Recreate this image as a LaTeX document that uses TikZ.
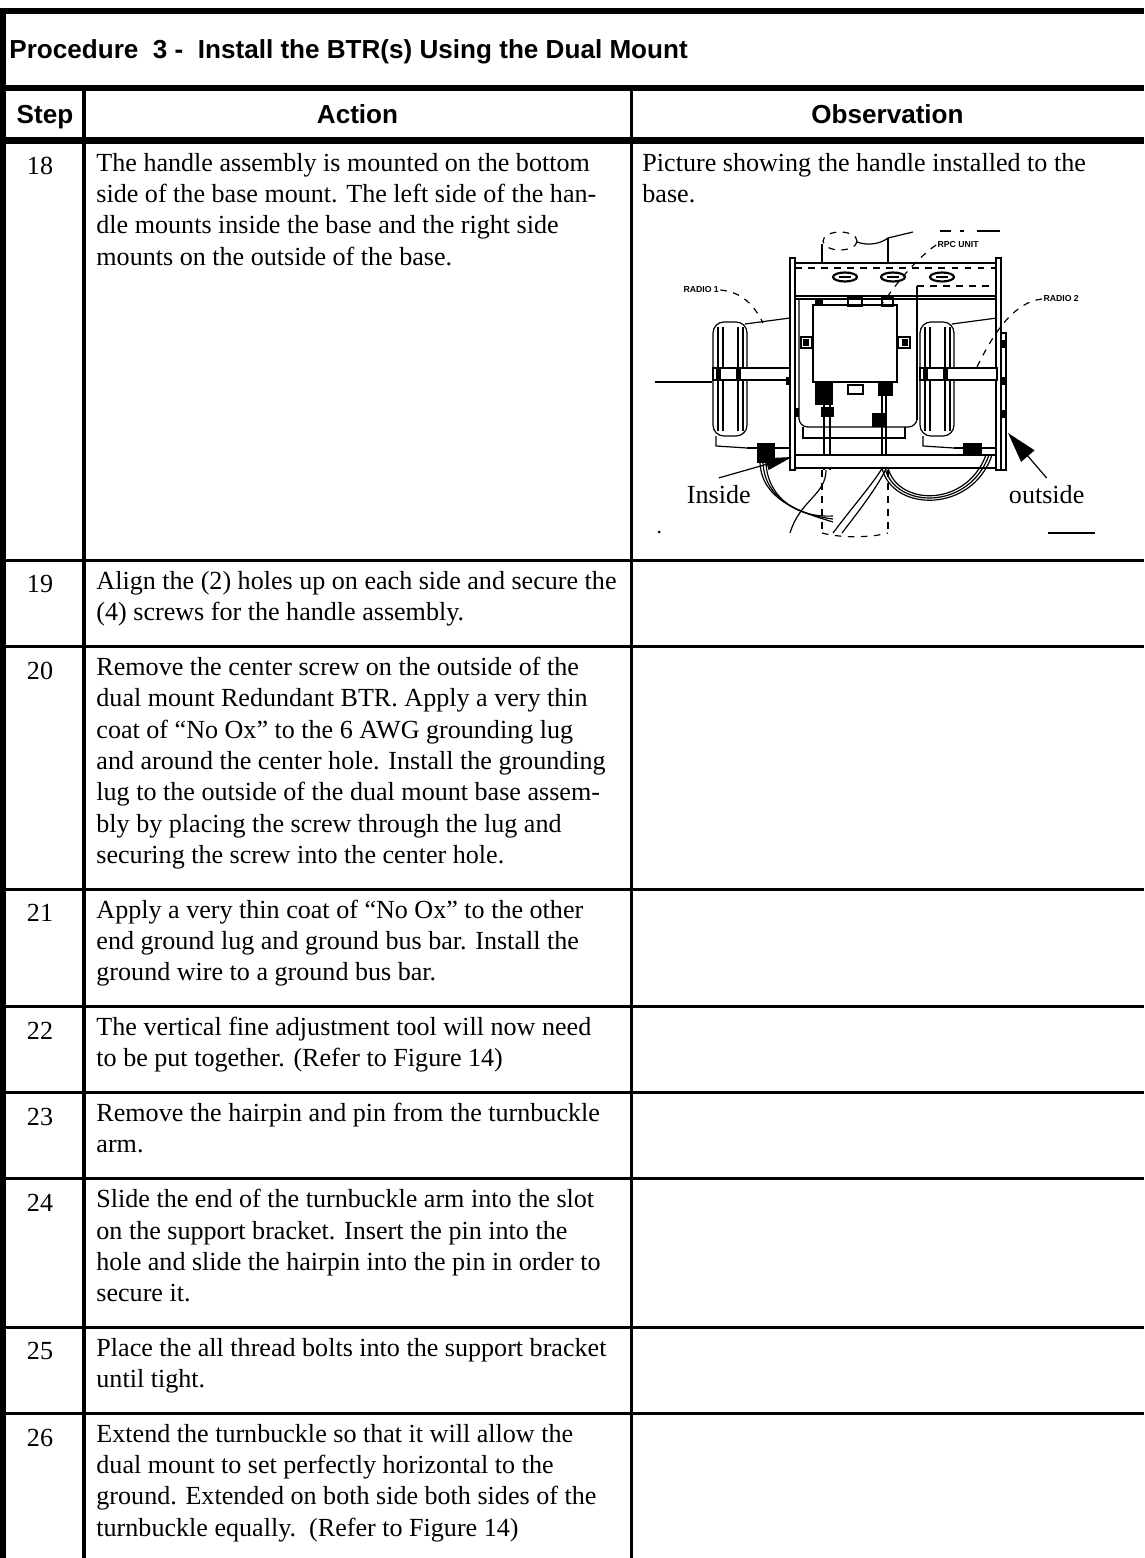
\documentclass[tikz,border=0pt]{standalone}
\usepackage{fontspec}
\setmainfont{Liberation Serif}
\setsansfont{Liberation Sans}
\usetikzlibrary{arrows.meta}
\newcommand{\celltext}{\fontsize{12}{14.4}\selectfont}
\newcommand{\headtext}{\sffamily\bfseries\fontsize{12}{14.4}\selectfont}
\newcommand{\mountlabelfont}{\sffamily\bfseries\fontsize{4}{4.8}\selectfont}
\tikzstyle{frame}=[line width=2.8pt]
\tikzstyle{colrule}=[line width=1.6pt]
\tikzstyle{rowrule}=[line width=1.4pt]

\begin{document}
\begin{tikzpicture}[x=0.46pt,y=-0.46pt]
\tikzset{cell/.style={anchor=north west,inner sep=0pt,align=left,font=\celltext,execute at begin node=\strut},
num/.style={anchor=north,inner sep=0pt,font=\celltext,execute at begin node=\strut},
head/.style={anchor=base,inner sep=0pt,font=\headtext},
part/.style={line width=0.55pt},
tag/.style={anchor=west,inner sep=0.5pt,font=\mountlabelfont},
callout/.style={anchor=base west,inner sep=3pt,font=\celltext}}
\useasboundingbox (0,0) rectangle (1144,1558);

% table lines
\draw[frame] (0,11) -- (1144,11);
\draw[frame] (3,8) -- (3,1558);
\draw[frame] (0,88) -- (1144,88);
\draw[frame] (0,140.5) -- (1144,140.5);
\draw[colrule] (84,88) -- (84,1558);
\draw[colrule] (631.5,88) -- (631.5,1558);
\foreach \y in {560.5,646.6,889.2,1006.6,1092.7,1178.8,1327.5,1413.6}
  \draw[rowrule] (6,\y) -- (1144,\y);

% headings
\node[head,anchor=base west] (title) at (9,59) {Procedure\ \ 3 -\ \ Install the BTR(s) Using the Dual Mount};
\node[head] (step) at (45,124) {Step};
\node[head] (action) at (357.5,124) {Action};
\node[head] (observation) at (887.5,124) {Observation};

% steps
\node[num] (n18) at (40,152.6) {18};
\node[cell] (a18) at (96,152.6) {The handle assembly is mounted on the bottom\\side of the base mount. The left side of the han-\\dle mounts inside the base and the right side\\mounts on the outside of the base.};
\node[cell] (o18) at (642,152.6) {Picture showing the handle installed to the\\base.};

\node[num] (n19) at (40,570.6) {19};
\node[cell] (a19) at (96,570.6) {Align the (2) holes up on each side and secure the\\(4) screws for the handle assembly.};

\node[num] (n20) at (40,656.7) {20};
\node[cell] (a20) at (96,656.7) {Remove the center screw on the outside of the\\dual mount Redundant BTR. Apply a very thin\\coat of “No Ox” to the 6 AWG grounding lug\\and around the center hole. Install the grounding\\lug to the outside of the dual mount base assem-\\bly by placing the screw through the lug and\\securing the screw into the center hole.};

\node[num] (n21) at (40,899.3) {21};
\node[cell] (a21) at (96,899.3) {Apply a very thin coat of “No Ox” to the other\\end ground lug and ground bus bar. Install the\\ground wire to a ground bus bar.};

\node[num] (n22) at (40,1016.7) {22};
\node[cell] (a22) at (96,1016.7) {The vertical fine adjustment tool will now need\\to be put together. (Refer to Figure 14)};

\node[num] (n23) at (40,1102.8) {23};
\node[cell] (a23) at (96,1102.8) {Remove the hairpin and pin from the turnbuckle\\arm.};

\node[num] (n24) at (40,1188.9) {24};
\node[cell] (a24) at (96,1188.9) {Slide the end of the turnbuckle arm into the slot\\on the support bracket. Insert the pin into the\\hole and slide the hairpin into the pin in order to\\secure it.};

\node[num] (n25) at (40,1337.6) {25};
\node[cell] (a25) at (96,1337.6) {Place the all thread bolts into the support bracket\\until tight.};

\node[num] (n26) at (40,1423.7) {26};
\node[cell] (a26) at (96,1423.7) {Extend the turnbuckle so that it will allow the\\dual mount to set perfectly horizontal to the\\ground. Extended on both side both sides of the\\turnbuckle equally.\ \ (Refer to Figure 14)};

% dual mount picture
\draw[part,dashed] (840,241) ellipse (17 and 9);
\draw[part] (822,262) -- (822,244);
\draw[part] (888,262) -- (888,238);
\draw[part] (857,242) .. controls (868,246) and (880,244) .. (888,238);
\draw[part] (888,238) -- (913,232);
\draw[line width=1.2pt,dash pattern=on 5 off 4 on 2 off 6 on 22 off 2] (940,231) -- (1000,231);

\draw[part] (790,258) rectangle (795,470);
\draw[part] (996,258) rectangle (1001,470);
\draw[part] (1001,333) rectangle (1006,470);
\draw[part] (795,263) -- (996,263);
\draw[part] (795,296) -- (996,296);
\draw[part] (795,299) -- (996,299);
\draw[part,dashed] (795,268) -- (996,268);
\draw[part,dashed] (917,286) -- (996,286);
\draw[part] (917,286) -- (917,420);
\foreach \x in {845,893,942} {
  \draw[line width=1pt] (\x,277) ellipse (12 and 4.5);
  \draw[part] (\x-6,277) -- (\x+6,277);
}

\draw[part,rounded corners=4] (799,299) -- (799,427) -- (917,427) -- (917,420);
\draw[part] (803,427) -- (803,438) -- (905,438) -- (905,427);

\draw[part,fill=white] (813,305) rectangle (897,382);
\fill (815,298) rectangle (823,306);
\draw[part] (848,298) rectangle (862,306);
\draw[part] (882,298) rectangle (893,306);
\draw[part,fill=white] (801,337) rectangle (812,348);
\fill (803,339) rectangle (809,346);
\draw[part,fill=white] (898,337) rectangle (910,348);
\fill (902,339) rectangle (908,346);
\fill (815,382) rectangle (833,405);
\fill (878,382) rectangle (893,396);
\draw[part] (848,385) rectangle (863,394);
\draw[part] (824,405) -- (824,470);
\draw[part] (830,405) -- (830,470);
\draw[part] (882,396) -- (882,457);
\draw[part] (886,396) -- (886,457);
\fill (821,407) rectangle (834,417);
\fill (872,413) rectangle (886,427);

\foreach \s in {0,207} {
  \begin{scope}[shift={(\s,0)}]
  \draw[part] (745,324) -- (790,318);
  \draw[part] (747,448) -- (790,448);
  \draw[part,rounded corners=5] (713,322) rectangle (747,436);
  \draw[part] (718,327) -- (718,431);
  \draw[part] (723,327) -- (723,431);
  \draw[part] (738,327) -- (738,431);
  \draw[part] (743,327) -- (743,431);
  \draw[part,fill=white] (713,368) rectangle (790,380);
  \fill (716,369) rectangle (721,379);
  \fill (736,369) rectangle (741,379);
  \draw[part] (716,436) -- (716,446) -- (747,448);
  \end{scope}
}
\fill (757,443) rectangle (775,463);
\fill (963,443) rectangle (982,455);
\foreach \y in {340,377,410}
  \fill (1001,\y) rectangle (1007,\y+8);
\fill (786,377) rectangle (790,385);
\fill (795,408) rectangle (799,417);

\draw[part,fill=white] (795,455) rectangle (996,468);

% cables
\foreach \d in {0,3,6} {
  \draw[part] (760+\d,463) .. controls (762+\d,500) and (800,512+\d) .. (833,522-\d);
  \draw[part] (882+\d,468) .. controls (892+\d,512-\d) and (972-\d,514-\d) .. (992-\d,455);
}
\draw[part] (883,467) .. controls (872,485) and (850,510) .. (833,533);
\draw[part] (887,467) .. controls (877,488) and (858,512) .. (842,533);
\draw[part] (826,470) .. controls (826,495) and (800,500) .. (790,533);
\draw[part,dashed] (822,470) -- (822,533);
\draw[part,dashed] (888,470) -- (888,533);
\draw[part,dashed] (822,533) .. controls (840,538) and (870,538) .. (888,533);

\draw[part] (655,382) -- (712,382);
\fill (659,532) circle (1.5);
\draw[part] (1048,533) -- (1095,533);

\node[tag] (radio1) at (682,290) {RADIO 1};
\draw[part,dashed] (radio1.east) .. controls (742,292) and (754,305) .. (763,323);
\node[tag] (radio2) at (1042,299) {RADIO 2};
\draw[part,dashed] (radio2.west) .. controls (1015,302) and (995,330) .. (977,367);
\node[tag] (rpc) at (936,245) {RPC UNIT};
\draw[part,dashed] (rpc.west) .. controls (915,260) and (895,285) .. (883,303);

\node[callout] (inside) at (680,503) {Inside};
\coordinate (insidetip) at (792,457);
\draw[part,-{Triangle[length=12pt,width=5.5pt]}] (inside.north) -- (insidetip);
\node[callout] (outside) at (1002,503) {outside};
\coordinate (outsidetip) at (1008,433);
\draw[part,-{Triangle[length=14pt,width=8pt]}] (outside.north) -- (outsidetip);
\end{tikzpicture}
\end{document}
